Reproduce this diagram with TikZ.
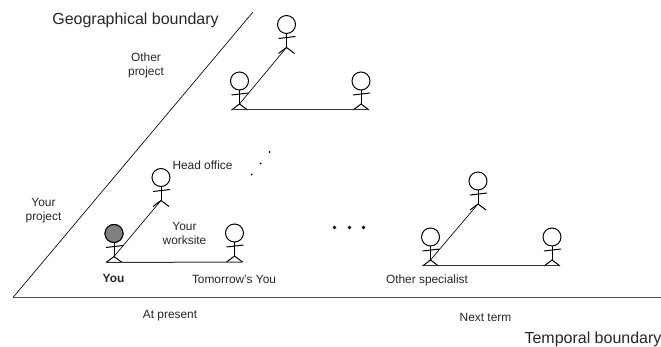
\documentclass[tikz,border=0pt]{standalone}
\usepackage{fontspec}
\setmainfont{Liberation Sans}
\tikzset{
  label/.style={font=\fontsize{11.9}{14}\selectfont, align=center, inner sep=0pt, text=black!85},
  biglabel/.style={font=\fontsize{16}{18}\selectfont, inner sep=0pt, text=black!85},
  head/.style={draw, circle, line width=1pt, minimum size=18pt, inner sep=0pt, fill=white},
  limb/.style={line width=1pt},
  tie/.style={line width=0.65pt},
  dot/.style={circle, fill=black, inner sep=0pt},
}
\begin{document}
\begin{tikzpicture}[x=1pt, y=-1pt]
\useasboundingbox (0,0) rectangle (661,347);

% people: name, head x, head y
\foreach \n/\x/\y in {a0/239.5/81, a1/286.5/24.5, a2/361/81,
                      b0/114/233.5, b1/161/177.5, b2/234.5/233,
                      c0/430.5/237, c1/478/181, c2/552/237} {
  \node[head] (\n) at (\x,\y) {};
  \coordinate (\n-hip) at (\x,\y+23);
  \coordinate (\n-l) at (\x-8,\y+29);
  \coordinate (\n-r) at (\x+8,\y+29);
  \draw[limb] (\n.south)--(\n-hip);
  \draw[limb] (\n-l)--(\n-hip)--(\n-r);
  \draw[limb] (\x-8,\y+14)--(\x+9,\y+12);
}
\node[head, fill=black!50] at (b0) {};

% links
\foreach \p/\q in {a0/a1, b0/b1, c0/c1} \draw[tie] (\p-hip)--(\q-hip);
\foreach \p/\q in {a0/a2, b0/b2, c0/c2} \draw[limb, black!80] (\p-l)--(\q-r);

% boundaries
\coordinate (o) at (13,297.5);
\coordinate (g) at (253,12);
\coordinate (t) at (661,297.5);
\draw[tie] (o)--(g);
\draw[line width=1pt, black!70] (o)--(t);

% dots
\foreach \x/\y in {269.5/152, 260.5/163.5, 251.5/174.5}
  \node[dot, minimum size=2pt] at (\x,\y) {};
\foreach \x in {334.5,349.5,363.5}
  \node[dot, minimum size=3.6pt] at (\x,227.5) {};

\node[biglabel] (geo) at (135.5,20) {Geographical boundary};
\node[biglabel] (tmp) at (593,339) {Temporal boundary};
\node[label] (l0) at (146,65) {Other\\project};
\node[label] (l1) at (202.5,165) {Head office};
\node[label] (l2) at (43.5,211) {Your\\project};
\node[label] (l3) at (184.5,233) {Your\\worksite};
\node[label, font=\fontsize{11.9}{14}\selectfont\bfseries] (l4) at (113.5,278) {You};
\node[label] (l5) at (234,279) {Tomorrow's You};
\node[label] (l6) at (170,316) {At present};
\node[label] (l7) at (427,280) {Other specialist};
\node[label] (l8) at (485.5,317) {Next term};
\end{tikzpicture}
\end{document}
